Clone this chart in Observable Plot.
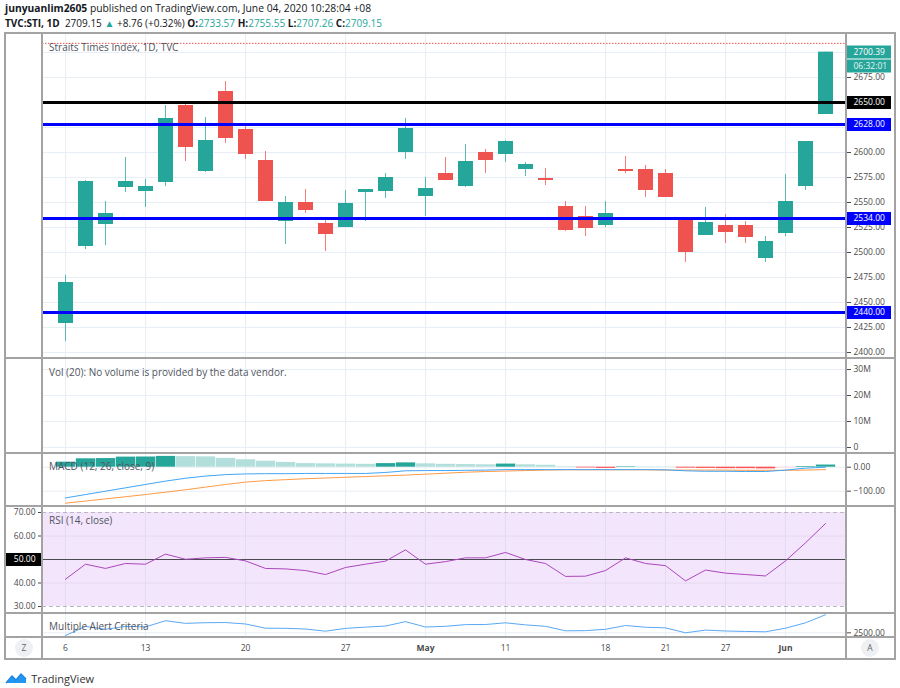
<!DOCTYPE html>
<html><head><meta charset="utf-8">
<script src="https://cdn.jsdelivr.net/npm/d3@7"></script>
<script src="https://cdn.jsdelivr.net/npm/@observablehq/plot@0.6"></script>
<style>
body{margin:0;background:#fff;font-family:"Open Sans",sans-serif;color:#131722;}
#page{position:relative;width:900px;height:688px;overflow:hidden;background:#fff;}
.abs{position:absolute;white-space:nowrap;}
.hl{position:absolute;height:2px;background:#a3a3a3;}
.vl{position:absolute;width:2px;background:#a3a3a3;}
.legend{position:absolute;left:49px;font-size:10px;color:#50535e;white-space:nowrap;line-height:12px;}
.btn{position:absolute;width:18px;height:18px;border-radius:9px;background:#eef0f3;color:#666;font-size:8.5px;line-height:18px;text-align:center;}
.teal{color:#26a69a;}
</style></head><body><div id="page"></div>
<script>
// ---------- data ----------
const dates = ["2020-04-06","2020-04-07","2020-04-08","2020-04-09","2020-04-13","2020-04-14","2020-04-15","2020-04-16","2020-04-17","2020-04-20","2020-04-21","2020-04-22","2020-04-23","2020-04-24","2020-04-27","2020-04-28","2020-04-29","2020-04-30","2020-05-04","2020-05-05","2020-05-06","2020-05-08","2020-05-11","2020-05-12","2020-05-13","2020-05-14","2020-05-15","2020-05-18","2020-05-19","2020-05-20","2020-05-21","2020-05-22","2020-05-26","2020-05-27","2020-05-28","2020-05-29","2020-06-01","2020-06-02","2020-06-03"];
const opens  = [2429,2506,2528,2565,2561,2570,2647,2581,2661,2623,2592,2531,2550,2529,2525,2560,2561,2600,2556,2579,2566,2600,2598,2583,2574,2546,2536,2527,2583,2583,2579,2533,2517,2527,2527,2494,2519,2566,2638];
const highs  = [2477,2572,2551,2595,2573,2647,2648,2635,2671,2627,2601,2556,2563,2533,2562,2563,2579,2634,2575,2595,2608,2603,2612,2590,2584,2551,2546,2551,2596,2587,2583,2535,2545,2538,2531,2516,2578,2611,2700.39];
const lows   = [2411,2503,2507,2560,2545,2566,2591,2580,2609,2593,2551,2508,2539,2501,2525,2531,2554,2593,2536,2572,2565,2579,2590,2576,2567,2521,2516,2525,2579,2555,2555,2490,2517,2509,2509,2490,2516,2562,2638];
const closes = [2470,2571,2539,2571,2566,2634,2605,2612,2614,2598,2551,2550,2542,2518,2549,2563,2575,2624,2564,2572,2591,2592,2611,2588,2572,2522,2524,2539,2581,2562,2555,2500,2530,2520,2515,2511,2551,2611,2700.39];
const rsiValues = [41.6,48.0,46.2,48.3,48.0,52.3,50.1,50.7,50.9,49.4,46.2,46.0,45.3,43.6,46.6,48.0,49.3,54.1,48.0,49.1,50.7,50.7,53.0,50.0,48.3,42.8,42.9,45.3,50.7,48.3,47.4,40.9,45.5,44.2,43.6,43.0,49.4,57.1,65.3];
const macdValues   = [-128,-114,-100,-86,-72,-58,-46,-37,-31,-28,-27,-27,-26,-26,-26,-26,-22,-15,-14,-14,-13,-12,-10,-10,-10,-10,-10,-10,-10,-10,-11,-15,-17,-17,-18,-18,-12,-4,0];
const signalValues = [-150,-141,-132,-123,-114,-104,-94,-83,-72,-62,-56,-52,-48,-45,-42,-39,-36,-33,-29,-25,-21,-18,-16,-14,-12,-11,-11,-11,-11,-11,-12,-12,-12,-12,-13,-13,-13,-12,-10];
const histValues   = [21,35,36,42,42.5,45,44,43,37,31,25,20,15,14,13,12,15,18,14,12,11,10,13,10,8,2,-3,-5,2,1.5,1,-4,-5,-6,-6,-7,-3,3,9];
const tickDates  = ["2020-04-06","2020-04-13","2020-04-20","2020-04-27","2020-05-04","2020-05-11","2020-05-18","2020-05-21","2020-05-27","2020-06-01"];
const tickLabels = ["6","13","20","27","May","11","18","21","27","Jun"];
const priceTicks = [2400,2425,2450,2475,2500,2525,2550,2575,2600,2625,2650,2675];
const priceGrid  = [2400,2425,2450,2475,2500,2525,2550,2575,2600,2625,2650,2675,2700];
const levelValues = [2650,2628,2534,2440];
const volumeTicks = [0,10e6,20e6,30e6];
const macdTicks = [0,-100];
const rsiTicks = [30,40,50,60,70];
const alertTicks = [2500];
const lastTrade = 2709.15, change = 8.76, changePct = 0.32;
const sessionOpen = 2733.57, sessionHigh = 2755.55, sessionLow = 2707.26, sessionClose = 2709.15;
const countdown = "06:32:01";

// ---------- setup ----------
const page = document.getElementById("page");
const FONT = "Open Sans";
const GREEN = "#26a69a", RED = "#ef5350", GRID = "#e8eef5";
const candles = dates.map((date, i) => ({date, open: opens[i], high: highs[i], low: lows[i], close: closes[i]}));
const ind = dates.map((date, i) => ({date, rsi: rsiValues[i], macd: macdValues[i], signal: signalValues[i], hist: histValues[i], prev: histValues[i - 1], close: closes[i]}));
const ticks = tickDates.map((date, i) => ({date, label: tickLabels[i]}));
const lastClose = closes[closes.length - 1];
const candleColor = d => d.close >= d.open ? GREEN : RED;
const histColor = d => d.hist >= 0 ? (d.prev === undefined || d.hist > d.prev ? "#26a69a" : "#b2dfdb") : (d.hist > d.prev ? "#ffcdd2" : "#ff5252");
const levelColor = (d, i) => i === 0 ? "#000000" : "#0000ff";
// price labels hidden behind the coloured level boxes
const shownPriceTicks = priceTicks.filter(t => levelValues.every(l => Math.abs(t - l) > 8));
const X = {type: "point", domain: dates, range: [56, 833], padding: 0, axis: null};

function addPlot(top, opts) {
  const svg = Plot.plot(Object.assign({
    width: 900, marginTop: 0, marginBottom: 0, marginLeft: 42, marginRight: 54,
    style: {background: "transparent", fontFamily: FONT, fontSize: "8.5px", color: "#4a4a4a", overflow: "visible"}
  }, opts));
  svg.style.position = "absolute"; svg.style.left = "0px"; svg.style.top = top + "px";
  page.appendChild(svg);
}
const vgrid = Plot.ruleX(tickDates, {x: d => d, stroke: GRID});
const rightAxis = (values, fmt) => Plot.axisY(values, {anchor: "right", tickSize: 4, tickPadding: 3, tickFormat: fmt, color: "#4a4a4a", label: null});

// ---------- header ----------
function addDiv(html, css, cls) {
  const d = document.createElement("div");
  d.className = cls || "abs"; d.innerHTML = html; Object.assign(d.style, css); page.appendChild(d); return d;
}
addDiv(`<b>junyuanlim2605</b> published on TradingView.com, June 04, 2020 10:28:04 +08`, {left: "5px", top: "1px", fontSize: "10.3px"});
addDiv(`<b>TVC:STI, 1D</b>&nbsp; ${lastTrade.toFixed(2)} <span class="teal">▲</span> +${change.toFixed(2)} (+${changePct.toFixed(2)}%) <b>O:</b><span class="teal">${sessionOpen.toFixed(2)}</span> <b>H:</b><span class="teal">${sessionHigh.toFixed(2)}</span> <b>L:</b><span class="teal">${sessionLow.toFixed(2)}</span> <b>C:</b><span class="teal">${sessionClose.toFixed(2)}</span>`, {left: "5px", top: "16px", fontSize: "10px"});

// ---------- main price panel ----------
const mainY = {domain: [2400, 2675], range: [319, 44]};
addPlot(33, {height: 325, x: X, y: mainY, marks: [
  Plot.ruleY(priceGrid, {stroke: GRID}),
  vgrid,
  Plot.ruleY([lastTrade], {stroke: RED, strokeDasharray: "1.5,1.5", strokeWidth: 1}),
  Plot.ruleX(candles, {x: "date", y1: "low", y2: "high", stroke: candleColor, strokeWidth: 1, strokeOpacity: 0.75}),
  Plot.ruleX(candles, {x: "date", y1: "open", y2: "close", stroke: candleColor, strokeWidth: 15}),
  Plot.ruleY(levelValues, {y: d => d, stroke: levelColor, strokeWidth: 3}),
  rightAxis(shownPriceTicks, d => d.toFixed(2))
]});
addPlot(33, {height: 325, marginLeft: 847, marginRight: 9, y: {...mainY, axis: null}, marks: [
  Plot.tickY(levelValues, {y: d => d, stroke: levelColor, strokeWidth: 13}),
  Plot.text(levelValues, {y: d => d, text: d => d.toFixed(2), frameAnchor: "left", dx: 6, fill: "white"}),
  Plot.tickY([lastClose], {y: d => d, stroke: GREEN, strokeWidth: 13}),
  Plot.tickY([lastClose], {y: d => d, stroke: GREEN, strokeWidth: 13, dy: 14}),
  Plot.text([lastClose], {y: d => d, text: d => d.toFixed(2), frameAnchor: "left", dx: 6, fill: "white"}),
  Plot.text([lastClose], {y: d => d, text: () => countdown, frameAnchor: "left", dx: 6, dy: 14, fill: "#e6f5f3"})
]});

// ---------- volume panel ----------
addPlot(358, {height: 95, x: X, y: {domain: [0, 30e6], range: [89, 11]}, marks: [
  Plot.ruleY(volumeTicks, {stroke: GRID}),
  vgrid,
  rightAxis(volumeTicks, d => d === 0 ? "0" : (d / 1e6) + "M")
]});

// ---------- MACD panel ----------
addPlot(453, {height: 53, x: X, y: {domain: [0, -100], range: [13.7, 37.7]}, marks: [
  Plot.ruleY(macdTicks, {stroke: GRID}),
  vgrid,
  Plot.ruleX(ind, {x: "date", y1: 0, y2: "hist", stroke: histColor, strokeWidth: 19.4}),
  Plot.lineY(ind, {x: "date", y: "signal", stroke: "#ff9a45", strokeWidth: 1}),
  Plot.lineY(ind, {x: "date", y: "macd", stroke: "#42a5f5", strokeWidth: 1}),
  rightAxis(macdTicks, d => d === 0 ? "0.00" : "\u2212" + Math.abs(d).toFixed(2))
]});

// ---------- RSI panel ----------
const rsiY = {domain: [30, 70], range: [100, 6]};
addPlot(506, {height: 107, x: X, y: rsiY, marks: [
  Plot.rect([{}], {y1: 30, y2: 70, fill: "#f3e5fc"}),
  Plot.ruleY([40, 60], {stroke: "#e4d8f0"}),
  Plot.ruleX(tickDates, {x: d => d, stroke: "#e2dcf2"}),
  Plot.ruleY([30, 70], {stroke: "#b8b8be", strokeDasharray: "4,3"}),
  Plot.ruleY([50], {stroke: "#4a4a50", strokeWidth: 1}),
  Plot.lineY(ind, {x: "date", y: "rsi", stroke: "#ab47bc", strokeWidth: 1}),
  Plot.axisY(rsiTicks.filter(t => t !== 50), {anchor: "left", tickSize: 4, tickPadding: 3, tickFormat: d => d.toFixed(2), color: "#4a4a4a", label: null})
]});
addPlot(506, {height: 107, marginLeft: 5, marginRight: 858, y: {...rsiY, axis: null}, marks: [
  Plot.tickY([50], {y: d => d, stroke: "#000", strokeWidth: 13}),
  Plot.text([50], {y: d => d, text: d => d.toFixed(2), frameAnchor: "right", dx: -7, fill: "white"})
]});

// ---------- Multiple Alert Criteria panel ----------
addPlot(613, {height: 24, x: X, y: {domain: [2470, 2700], range: [22, 1.3]}, marks: [
  Plot.ruleY(alertTicks, {stroke: GRID}),
  vgrid,
  Plot.lineY(ind, {x: "date", y: "close", stroke: "#5aa8f5", strokeWidth: 1}),
  rightAxis(alertTicks, d => d.toFixed(2))
]});

// ---------- time axis ----------
addPlot(637, {height: 22, x: X, marks: [
  Plot.text(ticks.filter(d => !isNaN(+d.label)), {x: "date", text: "label", frameAnchor: "middle", fill: "#4a4a4a"}),
  Plot.text(ticks.filter(d => isNaN(+d.label)), {x: "date", text: "label", frameAnchor: "middle", fill: "#4a4a4a", fontWeight: "bold"})
]});

// ---------- frame & dividers ----------
addDiv("", {left: "5px", top: "32px", width: "890px", height: "2px"}, "hl");
addDiv("", {left: "5px", top: "658px", width: "890px", height: "2px"}, "hl");
[357, 452, 505, 612, 636].forEach(y => addDiv("", {left: "5px", top: y + "px", width: "890px"}, "hl"));
[4, 41, 845, 894].forEach(x => addDiv("", {left: x + "px", top: "32px", height: "628px"}, "vl"));

// ---------- legends ----------
addDiv("Straits Times Index, 1D, TVC", {top: "41px"}, "legend");
addDiv("Vol (20): No volume is provided by the data vendor.", {top: "366px"}, "legend");
addDiv("MACD (12, 26, close, 9)", {top: "460px"}, "legend");
addDiv("RSI (14, close)", {top: "514px"}, "legend");
addDiv("Multiple Alert Criteria", {top: "620px"}, "legend");
addDiv("Z", {left: "15px", top: "639px"}, "btn");
addDiv("A", {left: "861px", top: "639px"}, "btn");

// ---------- logo ----------
addDiv(`<svg width="22" height="12" viewBox="0 0 22 12" style="vertical-align:-1px"><path d="M1 11 L7 4 L11 8 L16 2 L21 7 L21 11 Z" fill="#2196f3"/><path d="M1 11 L7 4 L11 8 L16 2 L21 7" fill="none" stroke="#1e88e5" stroke-width="1.5"/></svg> <span style="font-size:11px;color:#333">TradingView</span>`, {left: "5px", top: "666px"});
</script></body></html>
